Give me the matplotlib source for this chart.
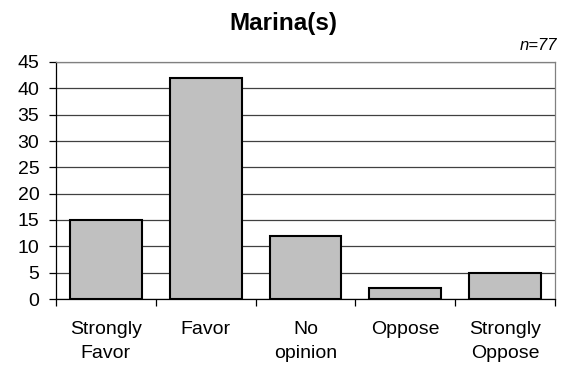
import matplotlib.pyplot as plt
import numpy as np

categories = ["Strongly\nFavor", "Favor", "No\nopinion", "Oppose", "Strongly\nOppose"]
counts = [15, 42, 12, 2, 5]
y_ticks = [0, 5, 10, 15, 20, 25, 30, 35, 40, 45]
title = "Marina(s)"
n_label = "n=77"

plt.rcParams['font.family'] = ['Liberation Sans', 'DejaVu Sans']

fig = plt.figure(figsize=(5.66, 3.77), dpi=100)
ax = fig.add_axes([56/566, 1-299/377, 499/566, 237/377])

x = np.arange(len(categories))
ax.bar(x, counts, width=0.72, color="#C0C0C0", edgecolor="black", linewidth=1.5, zorder=3)

ax.set_xlim(-0.5, len(categories)-0.5)
ax.set_ylim(0, 45)
ax.set_yticks(y_ticks)
ax.yaxis.grid(True, color="#404040", linewidth=0.9, zorder=0)

# category labels between boundary ticks
ax.set_xticks(x)
ax.set_xticklabels(categories, fontsize=14, linespacing=1.6, va="top")
ax.tick_params(axis="x", length=0, pad=15.5)
ax.set_xticks(np.arange(-0.5, len(categories)), minor=True)
ax.tick_params(axis="x", which="minor", length=5, width=0.9, direction="out")
ax.tick_params(axis="y", labelsize=14, length=5, width=0.9, direction="out", pad=7)

for side in ["top", "right"]:
    ax.spines[side].set_color("#808080")
    ax.spines[side].set_linewidth(0.9)
for side in ["left", "bottom"]:
    ax.spines[side].set_color("black")
    ax.spines[side].set_linewidth(0.9)

fig.text(283/566, 1-30/377, title, ha="center", va="baseline", fontsize=17.5, fontweight="bold")
fig.text(557/566, 1-50/377, n_label, ha="right", va="baseline", fontsize=12, style="italic")

fig.savefig("out.png", dpi=100)
